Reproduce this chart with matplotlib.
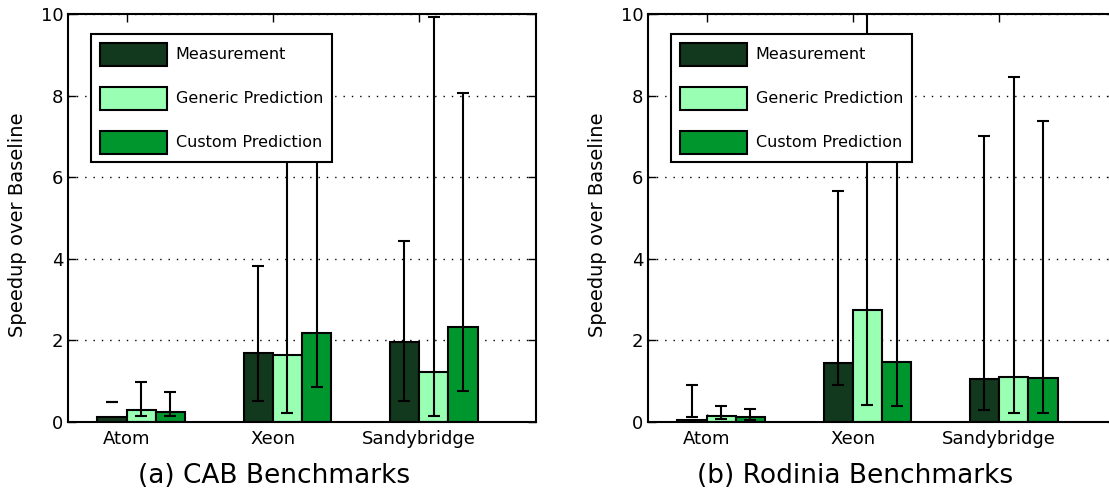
import numpy as np
import matplotlib
matplotlib.use('Agg')
import matplotlib.pyplot as plt

# machines on the x axis
machines = ['Atom', 'Xeon', 'Sandybridge']
series = ['Measurement', 'Generic Prediction', 'Custom Prediction']
colors = ['#12381d', '#99ffb3', '#00962e']

# (a) CAB benchmarks: bar heights and error bar low/high ends
cab_meas = [0.13, 1.70, 1.97]
cab_gen = [0.29, 1.65, 1.22]
cab_cust = [0.25, 2.19, 2.33]
cab_meas_lo = [0.49, 0.51, 0.52]
cab_meas_hi = [0.50, 3.83, 4.44]
cab_gen_lo = [0.14, 0.21, 0.15]
cab_gen_hi = [0.98, 8.6, 9.93]
cab_cust_lo = [0.14, 0.85, 0.75]
cab_cust_hi = [0.73, 7.6, 8.06]

# (b) Rodinia benchmarks
rod_meas = [0.05, 1.45, 1.05]
rod_gen = [0.15, 2.75, 1.10]
rod_cust = [0.12, 1.48, 1.07]
rod_meas_lo = [0.12, 0.90, 0.30]
rod_meas_hi = [0.90, 5.66, 7.02]
rod_gen_lo = [0.07, 0.42, 0.23]
rod_gen_hi = [0.40, 11.5, 8.46]
rod_cust_lo = [0.05, 0.38, 0.21]
rod_cust_hi = [0.32, 8.0, 7.38]

ind = np.arange(len(machines))
width = 0.2

fig = plt.figure(figsize=(11.09, 4.97), dpi=100)
ax1 = fig.add_axes([68/1109., 75/497., 468/1109., 408/497.])
ax2 = fig.add_axes([648/1109., 75/497., 468/1109., 408/497.])


def draw(ax, heights, lows, highs):
    for i in range(3):
        x = ind + i*width
        ax.bar(x, heights[i], width, align='edge', color=colors[i],
               edgecolor='k', linewidth=1.5, label=series[i], zorder=2)
        lo = np.array(lows[i])
        hi = np.array(highs[i])
        ax.errorbar(x + width/2, lo, yerr=[np.zeros(3), hi - lo], fmt='none',
                    ecolor='k', elinewidth=1.5, capsize=4.5, capthick=1.5,
                    zorder=3)
    ax.set_xlim(-0.2, 3.0)
    ax.set_ylim(0, 10)
    ax.set_yticks([0, 2, 4, 6, 8, 10])
    ax.set_xticks(ind + width)
    ax.set_xticklabels(machines)
    ax.yaxis.grid(True, linestyle=(0, (1, 5)), color='k', linewidth=1.0)
    ax.set_axisbelow(True)
    ax.tick_params(direction='in', top=True, right=True, length=6,
                   width=1.0, labelsize=13)
    ax.tick_params(axis='x', pad=6)
    for s in ax.spines.values():
        s.set_linewidth(1.5)
    ax.set_ylabel('Speedup over Baseline', fontsize=14)
    ax.yaxis.set_label_coords(-0.088, 0.483)
    leg = ax.legend(loc='upper left', bbox_to_anchor=(0.049, 0.951),
                    borderaxespad=0, fancybox=False, framealpha=1,
                    edgecolor='k', fontsize=11.5, handlelength=4.2,
                    handleheight=1.85, labelspacing=1.3, borderpad=0.55,
                    handletextpad=0.55)
    leg.get_frame().set_linewidth(1.5)
    leg.set_zorder(10)


draw(ax1, [cab_meas, cab_gen, cab_cust],
     [cab_meas_lo, cab_gen_lo, cab_cust_lo],
     [cab_meas_hi, cab_gen_hi, cab_cust_hi])
draw(ax2, [rod_meas, rod_gen, rod_cust],
     [rod_meas_lo, rod_gen_lo, rod_cust_lo],
     [rod_meas_hi, rod_gen_hi, rod_cust_hi])

# subfigure captions
fig.text(274/1109., 14/497., '(a) CAB Benchmarks', ha='center',
         va='baseline', fontsize=19)
fig.text(855/1109., 14/497., '(b) Rodinia Benchmarks', ha='center',
         va='baseline', fontsize=19)

fig.savefig('out.png', dpi=100)
